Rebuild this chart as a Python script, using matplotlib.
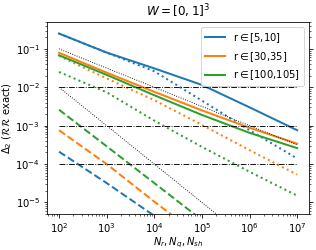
import matplotlib

matplotlib.use("Agg")
import matplotlib.pyplot as plt

n_points = [1e2, 1e3, 1e4, 1e5, 1e6, 1e7]
labels = [r"r$\in$[5,10]", r"r$\in$[30,35]", r"r$\in$[100,105]"]
colors = ["tab:blue", "tab:orange", "tab:green"]

# solid: N_r, dotted: N_q, dashed: N_sh
solid = [
    [0.25, 0.080, 0.031, 0.0115, 0.0030, 7.6e-4],
    [0.079, 0.024, 0.0076, 0.0025, 8.8e-4, 3.4e-4],
    [0.068, 0.021, 0.0062, 0.0019, 6.5e-4, 2.6e-4],
]
dotted = [
    [0.25, 0.08, 0.026, 0.0045, 7.6e-4, 1.4e-4],
    [0.065, 0.017, 0.0046, 1.05e-3, 2.3e-4, 5.3e-5],
    [0.025, 7.4e-3, 1.35e-3, 2.8e-4, 6.3e-5, 1.5e-5],
]
dashed = [
    [2.1e-4, 3.2e-5, 4.5e-6, 7e-7, 1e-7, 1.5e-8],
    [7.6e-4, 1.0e-4, 1.05e-5, 1.2e-6, 1.3e-7, 1.4e-8],
    [2.6e-3, 2.9e-4, 3.2e-5, 3.5e-6, 3.8e-7, 4e-8],
]
ref_sqrt = [1e-1, 3.16e-2, 1e-2, 3.16e-3, 1e-3, 3.16e-4]
ref_lin = [1e-2, 1e-3, 1e-4, 1e-5, 1e-6, 1e-7]
hlines = [1e-2, 1e-3, 1e-4]

fig = plt.figure(figsize=(316 / 72, 250 / 72), dpi=72)
ax = fig.add_axes([0.149, 0.144, 0.829, 0.768])

for i in range(3):
    ax.plot(n_points, solid[i], "-", color=colors[i], lw=2, label=labels[i])
    ax.plot(n_points, dotted[i], ":", color=colors[i], lw=2)
    ax.plot(n_points, dashed[i], "--", color=colors[i], lw=2)

ax.plot(n_points, ref_sqrt, ":", color="k", lw=0.9)
ax.plot(n_points, ref_lin, ":", color="k", lw=0.9)
for h in hlines:
    ax.plot([n_points[0], n_points[-1]], [h, h], "-.", color="k", lw=0.9)

ax.set_xscale("log")
ax.set_yscale("log")
ax.set_ylim(5e-6, 0.5)
ax.tick_params(which="both", right=True)
ax.set_xlabel(r"$N_r, N_q, N_{sh}$", labelpad=1)
ax.set_ylabel(r"$\Delta_2$ ($\mathcal{RR}$ exact)", labelpad=1)
ax.set_title(r"$W = [0, 1]^3$", fontsize=12)
ax.legend(loc="upper right")

fig.savefig("out.png", dpi=72)
